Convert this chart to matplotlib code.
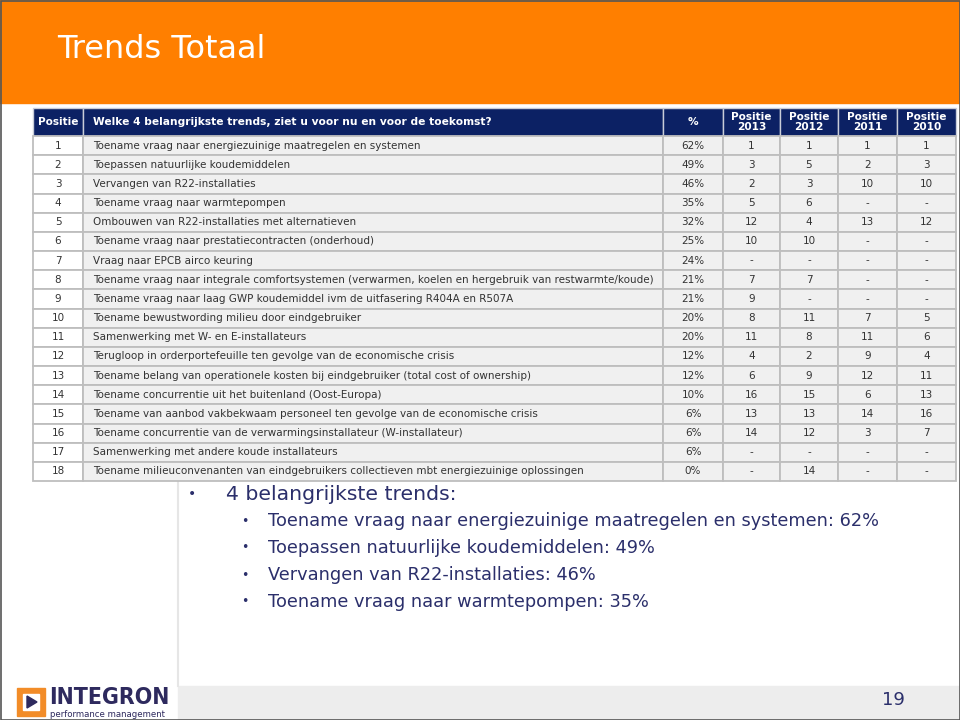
#!/usr/bin/env python3
import matplotlib
matplotlib.use('Agg')
import matplotlib.pyplot as plt
from matplotlib.patches import Rectangle, Polygon

title = 'Trends Totaal'
question = 'Welke 4 belangrijkste trends, ziet u voor nu en voor de toekomst?'
year_cols = ['Positie\n2013', 'Positie\n2012', 'Positie\n2011', 'Positie\n2010']

positie = list(range(1, 19))
trends = [
    'Toename vraag naar energiezuinige maatregelen en systemen',
    'Toepassen natuurlijke koudemiddelen',
    'Vervangen van R22-installaties',
    'Toename vraag naar warmtepompen',
    'Ombouwen van R22-installaties met alternatieven',
    'Toename vraag naar prestatiecontracten (onderhoud)',
    'Vraag naar EPCB airco keuring',
    'Toename vraag naar integrale comfortsystemen (verwarmen, koelen en hergebruik van restwarmte/koude)',
    'Toename vraag naar laag GWP koudemiddel ivm de uitfasering R404A en R507A',
    'Toename bewustwording milieu door eindgebruiker',
    'Samenwerking met W- en E-installateurs',
    'Terugloop in orderportefeuille ten gevolge van de economische crisis',
    'Toename belang van operationele kosten bij eindgebruiker (total cost of ownership)',
    'Toename concurrentie uit het buitenland (Oost-Europa)',
    'Toename van aanbod vakbekwaam personeel ten gevolge van de economische crisis',
    'Toename concurrentie van de verwarmingsinstallateur (W-installateur)',
    'Samenwerking met andere koude installateurs',
    'Toename milieuconvenanten van eindgebruikers collectieven mbt energiezuinige oplossingen',
]
pct = [62, 49, 46, 35, 32, 25, 24, 21, 21, 20, 20, 12, 12, 10, 6, 6, 6, 0]
pos2013 = ['1', '3', '2', '5', '12', '10', '-', '7', '9', '8', '11', '4', '6', '16', '13', '14', '-', '-']
pos2012 = ['1', '5', '3', '6', '4', '10', '-', '7', '-', '11', '8', '2', '9', '15', '13', '12', '-', '14']
pos2011 = ['1', '2', '10', '-', '13', '-', '-', '-', '-', '7', '11', '9', '12', '6', '14', '3', '-', '-']
pos2010 = ['1', '3', '10', '-', '12', '-', '-', '-', '-', '5', '6', '4', '11', '13', '16', '7', '-', '-']

ORANGE = '#FF7F00'
NAVY = '#0C2164'
TEXT = '#2B2F6B'


def main():
    fig = plt.figure(figsize=(9.6, 7.2), dpi=100)
    ax = fig.add_axes([0, 0, 1, 1])
    ax.set_xlim(0, 960)
    ax.set_ylim(720, 0)
    ax.axis('off')

    # header band
    ax.add_patch(Rectangle((0, 0), 960, 103, color=ORANGE, zorder=1))
    ax.text(57, 50, title, color='white', fontsize=23, va='center', ha='left')

    # footer band + divider
    ax.add_patch(Rectangle((178, 686), 782, 34, color='#EDEDED', zorder=1))
    ax.plot([178, 178], [482, 686], color='#E6E6E6', lw=1.5, zorder=1)
    ax.text(893, 700, '19', color=TEXT, fontsize=13, ha='center', va='center')

    # logo
    ax.add_patch(Rectangle((17, 688), 28, 28, color='#F28C28', zorder=2))
    ax.add_patch(Rectangle((23, 694), 16, 16, color='white', zorder=3))
    ax.add_patch(Polygon([(27, 696), (27, 708), (37, 702)], closed=True, color='#2E2A5E', zorder=4))
    ax.text(49, 709, 'INTEGRON', color='#2E2A5E', fontsize=16.5, fontweight='bold',
            fontstretch='condensed', ha='left', va='bottom')
    ax.text(50, 710, 'performance management', color='#2E2A5E', fontsize=6.8,
            fontstretch='condensed', ha='left', va='top')

    # table
    col_edges = [33, 83, 663, 723, 780, 838, 897, 956]
    y_top, y_head = 108, 136
    row_h = (481 - y_head) / len(positie)

    headers = ['Positie', question, '%'] + year_cols
    for j, h in enumerate(headers):
        x0, x1 = col_edges[j], col_edges[j + 1]
        ax.add_patch(Rectangle((x0, y_top), x1 - x0, y_head - y_top, facecolor=NAVY,
                               edgecolor='#C8CCD8', lw=1.0, zorder=2))
        if j == 1:
            ax.text(x0 + 10, (y_top + y_head) / 2, h, color='white', fontsize=7.7,
                    fontweight='bold', ha='left', va='center', zorder=3)
        else:
            ax.text((x0 + x1) / 2, (y_top + y_head) / 2, h, color='white', fontsize=7.6,
                    fontweight='bold', ha='center', va='center', linespacing=0.95, zorder=3)

    for i in range(len(positie)):
        y0 = y_head + i * row_h
        yc = y0 + row_h / 2
        cells = [str(positie[i]), trends[i], f'{pct[i]}%', pos2013[i], pos2012[i], pos2011[i], pos2010[i]]
        for j, c in enumerate(cells):
            x0, x1 = col_edges[j], col_edges[j + 1]
            fc = 'white' if j == 0 else '#F0F0F0'
            ax.add_patch(Rectangle((x0, y0), x1 - x0, row_h, facecolor=fc,
                                   edgecolor='#BEBEBE', lw=1.3, zorder=2))
            if j == 1:
                ax.text(x0 + 10, yc, c, color='#333333', fontsize=7.5, ha='left', va='center', zorder=3)
            else:
                ax.text((x0 + x1) / 2, yc, c, color='#333333', fontsize=7.5, ha='center',
                        va='center', zorder=3)

    # bullets
    ax.text(188, 494, '•', color=TEXT, fontsize=10, ha='left', va='center')
    ax.text(226, 494, '4 belangrijkste trends:', color=TEXT, fontsize=14.7, ha='left', va='center')
    for k in range(4):
        y = 521 + k * 27
        ax.text(241, y, '•', color=TEXT, fontsize=9, ha='left', va='center')
        ax.text(268, y, f'{trends[k]}: {pct[k]}%', color=TEXT, fontsize=12.8, ha='left', va='center')

    # slide border
    ax.add_patch(Rectangle((0.5, 0.5), 959, 719, fill=False, edgecolor='#555555', lw=1.2, zorder=5))

    fig.savefig('out.png', dpi=100)


if __name__ == '__main__':
    main()
